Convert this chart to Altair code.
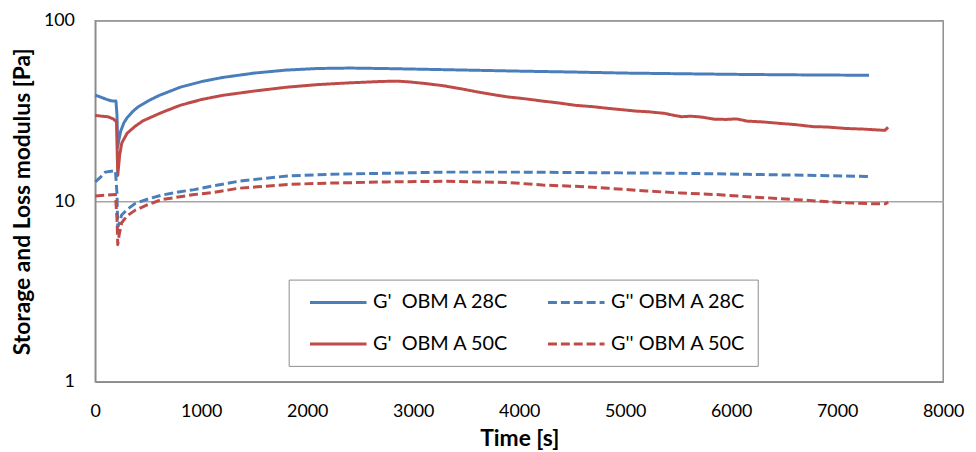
import altair as alt
import pandas as pd

NB = "\u00a0"
series_names = ["G'" + NB + " OBM A 28C", "G'" + NB + " OBM A 50C",
                "G'' OBM A 28C" + NB + NB, "G'' OBM A 50C" + NB + NB]
series_colors = ["#4a7ebb", "#be4b48", "#4a7ebb", "#be4b48"]
series_dashes = [[1, 0], [1, 0], [9, 4], [9, 4]]

# G' OBM A 28C
t_g1_28 = [0, 50, 100, 150, 195, 205, 212, 220, 240, 270, 300, 350, 400, 500, 600, 800, 1000, 1200,
           1500, 1800, 2100, 2400, 2700, 3000, 3500, 4000, 4500, 5000, 5500, 6000, 6500, 7000, 7300]
v_g1_28 = [38.7, 37.8, 36.8, 36.0, 35.9, 30.0, 19.9, 21.5, 24.5, 27.2, 29.0, 31.3, 33.2, 36.0, 38.5, 42.8, 46.0, 48.5,
           51.3, 53.3, 54.4, 54.7, 54.4, 54.0, 53.3, 52.6, 52.0, 51.3, 50.9, 50.5, 50.2, 50.0, 49.9]

# G' OBM A 50C
t_g1_50 = [0, 60, 120, 170, 200, 212, 230, 250, 300, 375, 450, 625, 800, 1000, 1200, 1500, 1800, 2100,
           2400, 2700, 2850, 2970, 3100, 3280, 3450, 3600, 3750, 3900, 4050, 4220, 4380, 4530, 4700,
           4840, 4960, 5100, 5220, 5370, 5450, 5530, 5620, 5715, 5840, 5950, 6050, 6150, 6300, 6460,
           6600, 6774, 6900, 7087, 7250, 7400, 7450, 7480]
v_g1_50 = [29.9, 29.6, 29.4, 28.6, 27.6, 13.9, 18.0, 21.0, 23.8, 26.0, 27.9, 31.0, 34.0, 36.6, 38.6, 40.8, 42.8, 44.3,
           45.3, 46.1, 46.3, 45.8, 45.0, 43.7, 42.0, 40.4, 39.0, 37.8, 37.0, 35.9, 35.0, 34.0, 33.4,
           32.7, 32.2, 31.6, 31.3, 30.7, 30.0, 29.4, 29.6, 29.3, 28.5, 28.4, 28.6, 27.8, 27.5, 27.0,
           26.6, 25.9, 25.8, 25.3, 25.1, 24.8, 24.7, 25.7]

# G'' OBM A 28C
t_g2_28 = [0, 50, 94, 190, 205, 212, 225, 249, 300, 374, 500, 623, 800, 935, 1122, 1350, 1600, 1815,
           2200, 2750, 3300, 4000, 4700, 5500, 6150, 6800, 7306]
v_g2_28 = [12.8, 13.6, 14.5, 14.8, 11.0, 7.2, 7.5, 8.4, 9.0, 9.7, 10.3, 10.8, 11.3, 11.6, 12.2, 12.9, 13.4, 13.8,
           14.1, 14.3, 14.5, 14.5, 14.4, 14.3, 14.1, 13.9, 13.7]

# G'' OBM A 50C
t_g2_50 = [0, 100, 190, 205, 212, 225, 249, 300, 374, 500, 623, 800, 935, 1122, 1347, 1600, 1815, 2200,
           2750, 3280, 3600, 3900, 4220, 4530, 4840, 5200, 5530, 5850, 6150, 6400, 6616, 6850, 7087,
           7300, 7460, 7480]
v_g2_50 = [10.7, 10.8, 10.9, 8.0, 5.75, 6.5, 7.6, 8.3, 8.9, 9.6, 10.2, 10.6, 10.9, 11.2, 11.8, 12.1, 12.4, 12.6,
           12.8, 12.9, 12.8, 12.7, 12.3, 12.1, 11.8, 11.4, 11.1, 10.9, 10.6, 10.4, 10.2, 10.0, 9.8,
           9.7, 9.7, 9.9]

x_ticks = [0, 1000, 2000, 3000, 4000, 5000, 6000, 7000, 8000]
y_ticks = [1, 10, 100]

rows = []
for name, ts, vs in [(series_names[0], t_g1_28, v_g1_28), (series_names[1], t_g1_50, v_g1_50),
                     (series_names[2], t_g2_28, v_g2_28), (series_names[3], t_g2_50, v_g2_50)]:
    for i, (t, v) in enumerate(zip(ts, vs)):
        rows.append({"series": name, "t": t, "v": v, "i": i})
df = pd.DataFrame(rows)

FONT = "Lato"

chart = alt.Chart(df).mark_line(strokeWidth=3, strokeCap="butt", strokeJoin="round").encode(
    x=alt.X("t:Q", scale=alt.Scale(domain=[0, 8000], nice=False),
            axis=alt.Axis(title="Time [s]", values=x_ticks, format="d", grid=False, tickSize=0,
                          labelPadding=21, titleY=57, titleBaseline="middle", labelFlush=False)),
    y=alt.Y("v:Q", scale=alt.Scale(type="log", domain=[1, 100], nice=False),
            axis=alt.Axis(title="Storage and Loss modulus [Pa]", values=y_ticks, format="d", grid=True,
                          tickSize=0, labelPadding=21, titleX=-73, titleY=182, titleBaseline="middle",
                          titleAlign="center", labelFlush=False)),
    color=alt.Color("series:N", title=None,
                    scale=alt.Scale(domain=series_names, range=series_colors)),
    strokeDash=alt.StrokeDash("series:N", title=None,
                              scale=alt.Scale(domain=series_names, range=series_dashes)),
    order="i:Q",
    detail="series:N",
).properties(
    width=855, height=364,
    autosize=alt.AutoSizeParams(type="none"),
    padding={"left": 88, "top": 11, "right": 25, "bottom": 74},
).configure_view(
    stroke="#8c8c8c", strokeWidth=1.5
).configure_axis(
    labelFont=FONT, titleFont=FONT, labelFontSize=18, titleFontSize=23, titleFontWeight="bold",
    labelColor="#000000", titleColor="#000000",
    domainColor="#8c8c8c", domainWidth=1.5, gridColor="#a6a6a6", gridWidth=1.5,
).configure_legend(
    orient="none", legendX=195, legendY=261, columns=2,
    strokeColor="#8c8c8c", fillColor="#ffffff", padding=12,
    symbolType="M -1 0 L 5 0", symbolSize=361, symbolStrokeWidth=3, symbolOffset=8,
    symbolFillColor="transparent",
    labelOffset=43, labelFont=FONT, labelFontSize=20, labelColor="#000000", labelLimit=300,
    columnPadding=30, rowPadding=21,
)

chart.save("out.html", embed_options={"renderer": "svg", "actions": False})
